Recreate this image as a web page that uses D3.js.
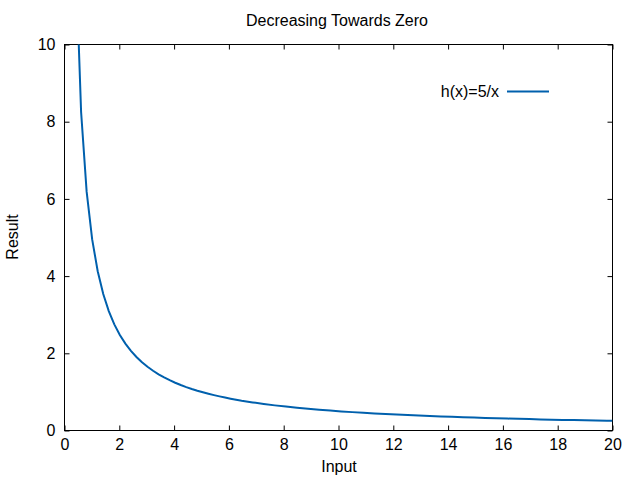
<!DOCTYPE html>
<html><head><meta charset="utf-8">
<script src="https://cdn.jsdelivr.net/npm/d3@7"></script>
<style>body{margin:0;background:#fff}svg{display:block}text{font-family:"Liberation Sans",Arial,sans-serif;fill:#000}</style>
</head><body>
<svg id="c" width="640" height="480"></svg>
<script>
const title = "Decreasing Towards Zero";
const xLabel = "Input";
const yLabel = "Result";
const seriesName = "h(x)=5/x";
const xTicks = [0,2,4,6,8,10,12,14,16,18,20];
const yTicks = [0,2,4,6,8,10];
const xValues = [0.404,0.606,0.808,1.010,1.212,1.414,1.616,1.818,2.020,2.222,2.424,2.626,2.828,3.030,3.232,3.434,3.636,3.838,4.040,4.242,4.444,4.646,4.848,5.051,5.253,5.455,5.657,5.859,6.061,6.465,6.869,7.273,7.677,8.081,8.485,8.889,9.293,9.697,10.101,10.505,10.909,11.313,11.717,12.121,12.525,12.929,13.333,13.737,14.141,14.545,14.949,15.354,15.758,16.162,16.566,16.970,17.374,17.778,18.182,18.586,18.990,19.394,19.798,20.0];
const yValues = [12.375,8.25,6.188,4.95,4.125,3.536,3.094,2.75,2.475,2.25,2.063,1.904,1.768,1.65,1.547,1.456,1.375,1.303,1.238,1.179,1.125,1.076,1.031,0.99,0.952,0.917,0.884,0.853,0.825,0.773,0.728,0.688,0.651,0.619,0.589,0.563,0.538,0.516,0.495,0.476,0.458,0.442,0.427,0.413,0.399,0.387,0.375,0.364,0.354,0.344,0.334,0.326,0.317,0.309,0.302,0.295,0.288,0.281,0.275,0.269,0.263,0.258,0.253,0.25];

const L=64.5,R=612.5,T=44.5,B=430.5;
const FS=16;
const svg=d3.select("#c");
const x=d3.scaleLinear().domain([0,20]).range([L,R]);
const y=d3.scaleLinear().domain([0,10]).range([B,T]);

svg.append("defs").append("clipPath").attr("id","clip").append("rect")
  .attr("x",L).attr("y",T).attr("width",R-L).attr("height",B-T);

const tl=5;
const ax=(sel)=>sel.selectAll("path").remove();
const txt=g=>g.selectAll("text").attr("font-size",FS).attr("font-family","Liberation Sans, Arial, sans-serif").attr("fill","#000");
// bottom
svg.append("g").attr("transform",`translate(0,${B})`)
  .call(d3.axisBottom(x).tickValues(xTicks).tickSizeInner(-tl).tickSizeOuter(0).tickPadding(8))
  .call(ax).call(txt);
// top
svg.append("g").attr("transform",`translate(0,${T})`)
  .call(d3.axisTop(x).tickValues(xTicks).tickSizeInner(-tl).tickSizeOuter(0).tickFormat(""))
  .call(ax);
// left
svg.append("g").attr("transform",`translate(${L},0)`)
  .call(d3.axisLeft(y).tickValues(yTicks).tickSizeInner(-tl).tickSizeOuter(0).tickPadding(9))
  .call(ax).call(txt);
// right
svg.append("g").attr("transform",`translate(${R},0)`)
  .call(d3.axisRight(y).tickValues(yTicks).tickSizeInner(-tl).tickSizeOuter(0).tickFormat(""))
  .call(ax);
svg.selectAll(".tick line").attr("stroke","#000");

svg.append("rect").attr("x",L).attr("y",T).attr("width",R-L).attr("height",B-T)
  .attr("fill","none").attr("stroke","#000").attr("stroke-width",1);

const pts=xValues.map((v,i)=>[v,yValues[i]]);
svg.append("path").attr("clip-path","url(#clip)").datum(pts)
  .attr("fill","none").attr("stroke","#0060ad").attr("stroke-width",2)
  .attr("d",d3.line().x(d=>x(d[0])).y(d=>y(d[1])));

svg.append("text").attr("x",337).attr("y",26).attr("text-anchor","middle").attr("font-size",FS).text(title);
svg.append("text").attr("x",339).attr("y",472).attr("text-anchor","middle").attr("font-size",FS).text(xLabel);
svg.append("text").attr("transform","translate(18,237) rotate(-90)").attr("text-anchor","middle").attr("font-size",FS).text(yLabel);

svg.append("text").attr("x",499).attr("y",97).attr("text-anchor","end").attr("font-size",FS).text(seriesName);
svg.append("line").attr("x1",507).attr("x2",549).attr("y1",91.5).attr("y2",91.5)
  .attr("stroke","#0060ad").attr("stroke-width",2);
</script>
</body></html>
